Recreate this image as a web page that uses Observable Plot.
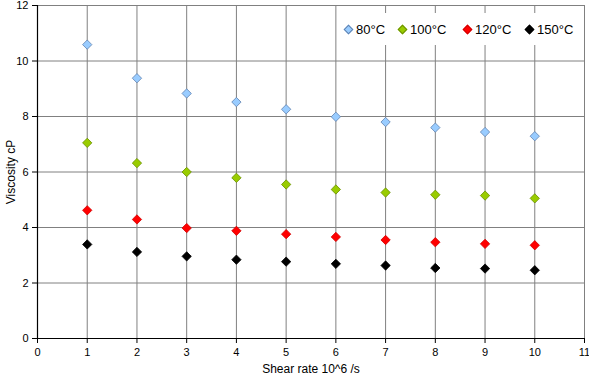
<!DOCTYPE html>
<html><head><meta charset="utf-8">
<script src="https://cdn.jsdelivr.net/npm/d3@7"></script>
<script src="https://cdn.jsdelivr.net/npm/@observablehq/plot@0.6"></script>
<style>
body{margin:0;background:#fff;font-family:"Liberation Sans",Arial,sans-serif;}
#wrap{position:relative;width:589px;height:379px;}
#legend{position:absolute;left:341px;top:13px;width:241px;height:32px;background:#fff;font-size:13px;color:#000;}
.it{position:absolute;top:0;height:32px;display:flex;align-items:center;}
.sw{width:7px;height:7px;transform:rotate(45deg);margin-right:4px;box-sizing:border-box;}
</style></head>
<body><div id="wrap"></div>
<script>
const shear = [1,2,3,4,5,6,7,8,9,10];
const temps = ["80°C","100°C","120°C","150°C"];
const v80  = [10.59,9.38,8.83,8.52,8.26,7.99,7.80,7.60,7.44,7.29];
const v100 = [7.05,6.32,6.00,5.79,5.55,5.37,5.26,5.18,5.15,5.05];
const v120 = [4.62,4.29,3.98,3.88,3.76,3.66,3.55,3.47,3.41,3.36];
const v150 = [3.39,3.12,2.96,2.84,2.77,2.69,2.63,2.54,2.52,2.46];
const fills = ["#99ccff","#99cc00","#ff0000","#000000"];
const strokes = ["#5f82b0","#6a8f00","#d00000","#000000"];
const xTicks = [0,1,2,3,4,5,6,7,8,9,10,11];
const yTicks = [0,2,4,6,8,10,12];

const series = [v80,v100,v120,v150];
const data = [];
series.forEach((vals,i)=>vals.forEach((v,j)=>data.push({t:temps[i],x:shear[j],y:v})));

const chart = Plot.plot({
  width:589, height:379,
  marginLeft:37, marginRight:5, marginTop:5, marginBottom:41,
  style:{fontFamily:"'Liberation Sans', Arial, sans-serif", fontSize:"11px", background:"#fff", color:"#000"},
  x:{domain:[0,11], ticks:xTicks, tickSize:5, tickPadding:5, label:"Shear rate 10^6 /s", labelAnchor:"center", labelArrow:"none", labelOffset:34},
  y:{domain:[0,12], ticks:yTicks, tickSize:5, tickPadding:4, label:"Viscosity cP", labelAnchor:"center", labelArrow:"none", labelOffset:31},
  color:{domain:temps, range:fills},
  marks:[
    Plot.ruleX(xTicks.slice(1), {stroke:"#808080", strokeWidth:1}),
    Plot.ruleY(yTicks.slice(1), {stroke:"#808080", strokeWidth:1}),
    Plot.ruleX([0], {stroke:"#000", strokeWidth:1.2}),
    Plot.ruleY([0], {stroke:"#000", strokeWidth:1.2}),
    Plot.dot(data, {x:"x", y:"y", symbol:"diamond2", r:4.2, fill:"t",
      stroke:d=>strokes[temps.indexOf(d.t)], strokeWidth:0.8})
  ]
});
chart.querySelectorAll('[aria-label="y-axis label"] text, [aria-label="x-axis label"] text').forEach(t=>t.setAttribute("font-size","12px"));
const wrap = document.getElementById("wrap");
wrap.appendChild(chart);
const lg = document.createElement("div");
lg.id = "legend";
const legendLeft = [4, 58, 123, 185];
temps.forEach((t,i)=>{
  const it = document.createElement("div"); it.className="it"; it.style.left = legendLeft[i]+"px";
  const sw = document.createElement("div"); sw.className="sw";
  sw.style.background = fills[i]; sw.style.border = "0.8px solid "+strokes[i];
  const tx = document.createElement("span"); tx.textContent = t;
  it.appendChild(sw); it.appendChild(tx); lg.appendChild(it);
});
wrap.appendChild(lg);
</script></body></html>
